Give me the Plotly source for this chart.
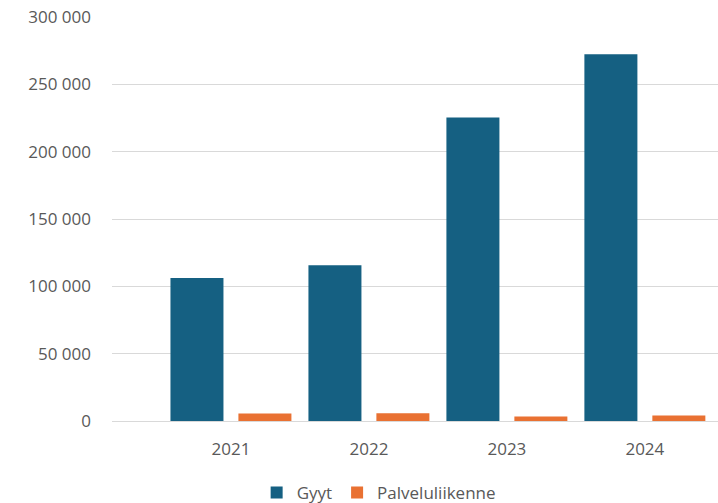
import plotly.graph_objects as go

years = ["2021", "2022", "2023", "2024"]
gyyt = [106200, 115700, 225300, 272300]
palveluliikenne = [5600, 5800, 3300, 4100]
y_ticks = [0, 50000, 100000, 150000, 200000, 250000, 300000]
y_tick_labels = ["0", "50 000", "100 000", "150 000", "200 000", "250 000", "300 000"]

FONT = "Open Sans"
TXT = "#595959"

fig = go.Figure()
fig.add_trace(go.Bar(name="Gyyt", x=years, y=gyyt, marker=dict(color="#156082", line=dict(width=0))))
fig.add_trace(go.Bar(name="Palveluliikenne", x=years, y=palveluliikenne, marker=dict(color="#E97132", line=dict(width=0))))

fig.update_layout(
    width=718, height=503,
    margin=dict(l=112, r=0, t=17, b=82, autoexpand=False),
    paper_bgcolor="white", plot_bgcolor="white",
    barmode="group", bargap=0.015, bargroupgap=0.22,
    font=dict(family=FONT, size=17, color=TXT),
    showlegend=True,
    legend=dict(orientation="h", x=0.44, y=-0.178,
                xanchor="center", yanchor="middle", font=dict(size=17, color=TXT),
                itemwidth=30, tracegroupgap=0),
)
fig.update_xaxes(type="category", range=[-0.862, 3.53], showgrid=False, showline=False, automargin=False,
                 ticks="", ticklabelstandoff=16, tickfont=dict(size=17, color=TXT), zeroline=False)
fig.update_yaxes(range=[0, 300000], tickvals=y_ticks, ticktext=y_tick_labels, automargin=False,
                 showgrid=True, gridcolor="#D9D9D9", gridwidth=1, zeroline=True, zerolinecolor="#D9D9D9",
                 zerolinewidth=1, ticks="", ticklabelstandoff=20, tickfont=dict(size=17, color=TXT),
                 showline=False)

fig.write_html("out.html", config={"displayModeBar": False},
               post_script="document.body.style.margin='0px';document.body.style.overflow='hidden';")
